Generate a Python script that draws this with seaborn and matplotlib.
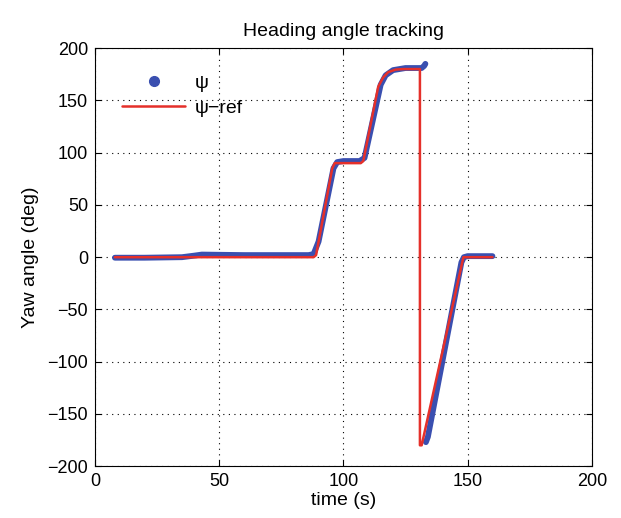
import numpy as np
import pandas as pd
import matplotlib
matplotlib.use("Agg")
import matplotlib.pyplot as plt
import seaborn as sns
from matplotlib.lines import Line2D

# Measured heading psi (two segments; wrap-around between them)
psi_t1 = [8, 20, 35, 40, 43, 60, 86, 88, 90, 96, 97.5, 100, 106.5, 108.5, 115, 117, 120, 125, 130, 131.5, 132.5, 133]
psi_v1 = [-0.5, -0.5, 0, 1.5, 2.5, 2, 2, 3, 15, 85, 91, 92, 92, 95, 165, 174, 179, 181, 181, 181, 183, 185]
psi_t2 = [133.2, 134, 147.5, 148.5, 150, 160]
psi_v2 = [-177, -172, -5, 0, 1, 1]

# Reference heading
ref_t = [8, 88, 89, 95.5, 96.5, 107, 108, 114, 116, 118, 121, 124, 130.8, 130.8, 131.5, 148.3, 149, 160]
ref_v = [0, 0, 2, 85, 90, 90, 92, 163, 172, 177, 179.5, 180, 180, -180, -180, 0, 0, 0]

BLUE = "#3a4fb0"
RED = "#e5302a"

sns.set_style("ticks")
plt.rcParams['font.family'] = ['Liberation Sans', 'DejaVu Sans']
plt.rcParams['text.color'] = 'black'
plt.rcParams['axes.labelcolor'] = 'black'
plt.rcParams['xtick.color'] = 'black'
plt.rcParams['ytick.color'] = 'black'
plt.rcParams['axes.edgecolor'] = 'black'

fig = plt.figure(figsize=(6.21, 5.18), dpi=100)
ax = fig.add_axes([0.153, 0.100, 0.800, 0.807])

d1 = pd.DataFrame({"t": psi_t1, "v": psi_v1})
d2 = pd.DataFrame({"t": psi_t2, "v": psi_v2})
dr = pd.DataFrame({"t": ref_t, "v": ref_v})

for d in (d1, d2):
    sns.lineplot(data=d, x="t", y="v", ax=ax, color=BLUE, lw=4.2, sort=False,
                 estimator=None, solid_capstyle="round", solid_joinstyle="round")
sns.lineplot(data=dr, x="t", y="v", ax=ax, color=RED, lw=1.8, sort=False, estimator=None)

ax.set_xlim(0, 200)
ax.set_ylim(-200, 200)
ax.set_xticks(np.arange(0, 201, 50))
ax.set_yticks(np.arange(-200, 201, 50))
ax.grid(True, color="black", linestyle=(0, (1, 4)), linewidth=0.8)
ax.tick_params(direction="in", top=True, right=True, labelsize=13, length=4, pad=5,
               colors="black")
for s in ax.spines.values():
    s.set_visible(True)
    s.set_linewidth(0.8)
    s.set_color("black")
ax.set_title("Heading angle tracking", fontsize=14, pad=9, color="black")
ax.set_xlabel("time (s)", fontsize=14, labelpad=1, color="black")
ax.set_ylabel("Yaw angle (deg)", fontsize=14, labelpad=6, color="black")

handles = [Line2D([], [], color=BLUE, marker="o", linestyle="none", markersize=7),
           Line2D([], [], color=RED, lw=1.8)]
leg = ax.legend(handles, ["ψ", "ψ−ref"], loc="upper left", frameon=False, fontsize=14,
                bbox_to_anchor=(0.02, 0.98), handlelength=3.2, handletextpad=0.5,
                labelspacing=0.4)
for t in leg.get_texts():
    t.set_color("black")

fig.savefig("out.png", dpi=100)
